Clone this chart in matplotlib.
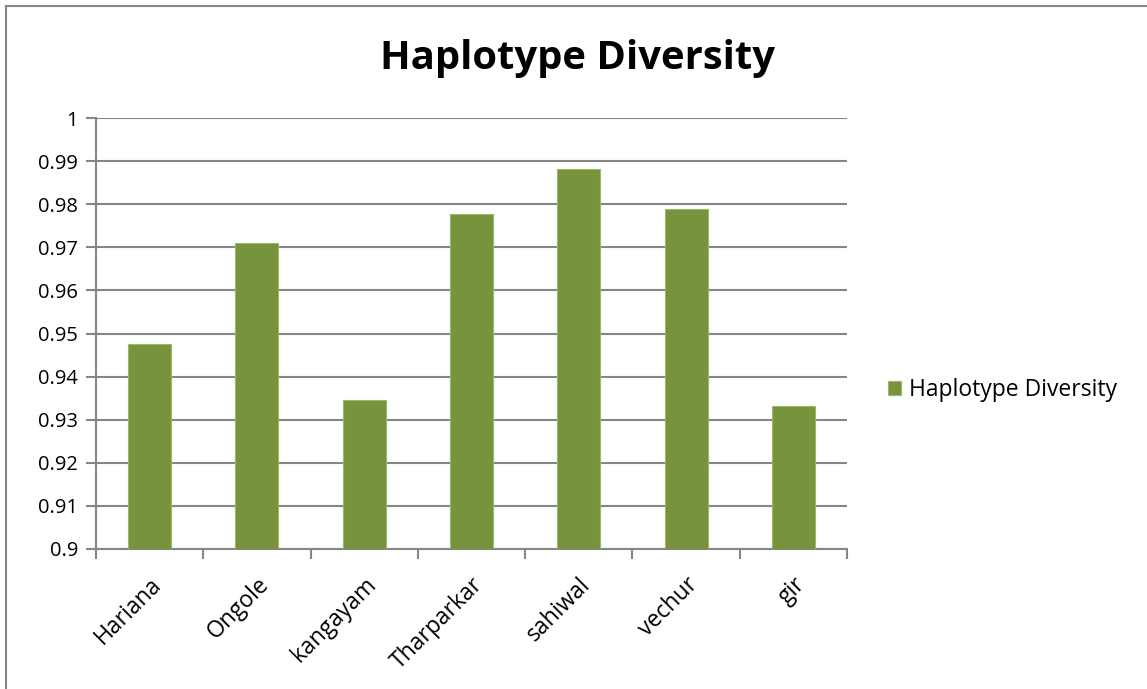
import matplotlib.pyplot as plt
import numpy as np
from matplotlib.lines import Line2D

breeds = ['Hariana', 'Ongole', 'kangayam', 'Tharparkar', 'sahiwal', 'vechur', 'gir']
diversity = [0.9476, 0.9711, 0.9345, 0.9778, 0.9882, 0.9788, 0.9332]
y_ticks = [0.9, 0.91, 0.92, 0.93, 0.94, 0.95, 0.96, 0.97, 0.98, 0.99, 1]
y_labels = ['0.9', '0.91', '0.92', '0.93', '0.94', '0.95', '0.96', '0.97', '0.98', '0.99', '1']

plt.rcParams['font.family'] = ['Open Sans', 'DejaVu Sans']

W, H = 1147, 689
fig = plt.figure(figsize=(W / 100, H / 100), dpi=100)
ax = fig.add_axes([96 / W, 1 - 549 / H, (847 - 96) / W, (549 - 118) / H])

grey = '#868686'
green = '#77933C'

x = np.arange(len(breeds))
ax.bar(x, diversity, width=0.4, color=green, edgecolor='#9bb86a', linewidth=0.8,
       label='Haplotype Diversity', zorder=3)

ax.set_xlim(-0.5, len(breeds) - 0.5)
ax.set_ylim(0.9, 1.0)
ax.set_yticks(y_ticks)
ax.set_yticklabels(y_labels, fontsize=14.5)
ax.set_xticks(x)
ax.set_xticklabels(breeds, rotation=45, ha='right', rotation_mode='anchor', fontsize=16.5)
ax.tick_params(axis='x', length=0, pad=17)
ax.set_xticks(np.arange(len(breeds) + 1) - 0.5, minor=True)
ax.tick_params(axis='x', which='minor', length=7, width=1.5, color=grey)
ax.tick_params(axis='y', length=7, width=1.5, color=grey, pad=6)

ax.grid(axis='y', color=grey, linewidth=1.5, zorder=0)
for s in ['top', 'right']:
    ax.spines[s].set_visible(False)
for s in ['left', 'bottom']:
    ax.spines[s].set_color(grey)
    ax.spines[s].set_linewidth(1.5)

fig.text(578 / W, 1 - 58 / H, 'Haplotype Diversity', ha='center', va='center',
         fontsize=28.8, fontweight='bold')

fig.legend(loc='center left', bbox_to_anchor=(867 / W, 1 - 390 / H), frameon=False,
           fontsize=16.5, handlelength=0.6, handleheight=0.6, handletextpad=0.35)

# chart border: only the left and top edges fall inside the image
fig.lines.append(Line2D([6 / W, 6 / W], [0, 1 - 6 / H], transform=fig.transFigure,
                        color=grey, linewidth=1.5))
fig.lines.append(Line2D([6 / W, 1], [1 - 6 / H, 1 - 6 / H], transform=fig.transFigure,
                        color=grey, linewidth=1.5))

fig.savefig('out.png', dpi=100)
